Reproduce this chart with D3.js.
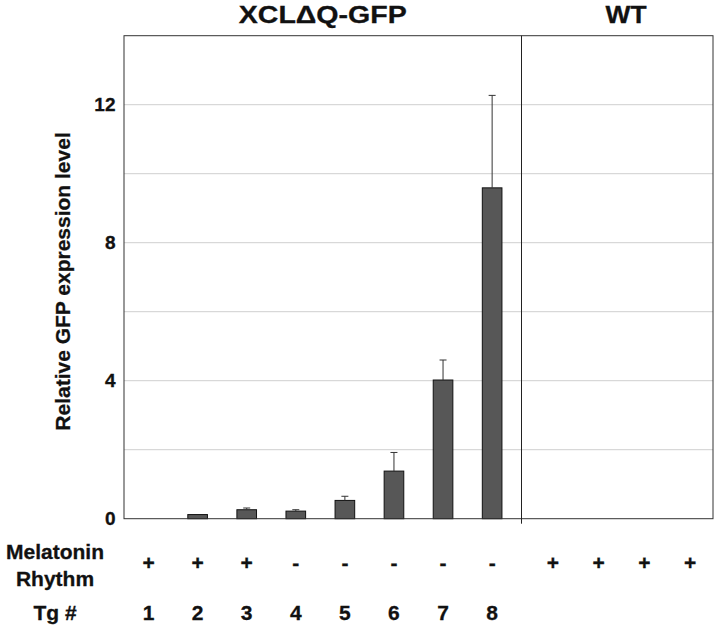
<!DOCTYPE html>
<html>
<head>
<meta charset="utf-8">
<script src="https://cdn.jsdelivr.net/npm/d3@7"></script>
<style>
  html, body { margin: 0; padding: 0; background: #fff; }
  svg { display: block; }
  text { font-family: "Liberation Sans", Arial, Helvetica, sans-serif; font-weight: bold; fill: #111; stroke: #111; stroke-width: 0.3; }
</style>
</head>
<body>
<svg id="chart" width="720" height="627"></svg>
<script>
// ---- data ----
const tgCategories = ["1", "2", "3", "4", "5", "6", "7", "8"];
const wtCategories = ["WT1", "WT2", "WT3", "WT4"];
const tgValues = [0, 0.12, 0.26, 0.22, 0.53, 1.38, 4.02, 9.59];
const tgErrorTop = [null, null, 0.31, 0.26, 0.65, 1.92, 4.6, 12.27];
const wtValues = [0, 0, 0, 0];
const tgMelatonin = ["+", "+", "+", "-", "-", "-", "-", "-"];
const wtMelatonin = ["+", "+", "+", "+"];
const yTickValues = [0, 4, 8, 12];
const yGridValues = [2, 4, 6, 8, 10, 12];
const groupTitles = ["XCL\u0394Q-GFP", "WT"];
const yTitle = "Relative GFP expression level";
const rowLabels = ["Melatonin", "Rhythm", "Tg #"];

// ---- layout ----
const svg = d3.select("#chart");
const pLeft = 124, pRight = 713, pTop = 35.7, pBottom = 518.7;
const allCats = tgCategories.concat(wtCategories);

const x = d3.scaleBand().domain(allCats).range([pLeft, pRight])
  .paddingInner(0.6).paddingOuter(0.3);
const xLabWT = d3.scaleBand().domain(wtCategories).range([530, 713]);
const y = d3.scaleLinear().domain([0, 14]).range([pBottom, pTop]);

const cx = c => x(c) + x.bandwidth() / 2;

// grid lines
svg.append("g").selectAll("line").data(yGridValues).join("line")
  .attr("x1", pLeft).attr("x2", pRight)
  .attr("y1", d => y(d)).attr("y2", d => y(d))
  .attr("stroke", "#cfcfcf").attr("stroke-width", 1);

// bars
const barData = tgCategories.map((c, i) => ({ c, v: tgValues[i], e: tgErrorTop[i] }))
  .concat(wtCategories.map((c, i) => ({ c, v: wtValues[i], e: null })));

svg.append("g").selectAll("rect").data(barData.filter(d => d.v > 0)).join("rect")
  .attr("x", d => x(d.c)).attr("width", x.bandwidth())
  .attr("y", d => y(d.v)).attr("height", d => y(0) - y(d.v))
  .attr("fill", "#575757").attr("stroke", "#111").attr("stroke-width", 1);

// error bars
const errs = barData.filter(d => d.e != null);
const eg = svg.append("g").attr("stroke", "#333").attr("stroke-width", 1);
eg.selectAll("line.v").data(errs).join("line").attr("class", "v")
  .attr("x1", d => cx(d.c)).attr("x2", d => cx(d.c))
  .attr("y1", d => y(d.v)).attr("y2", d => y(d.e));
eg.selectAll("line.cap").data(errs).join("line").attr("class", "cap")
  .attr("x1", d => cx(d.c) - 3.5).attr("x2", d => cx(d.c) + 3.5)
  .attr("y1", d => y(d.e)).attr("y2", d => y(d.e));

// frame
svg.append("rect").attr("x", pLeft).attr("y", pTop)
  .attr("width", pRight - pLeft).attr("height", pBottom - pTop)
  .attr("fill", "none").attr("stroke", "#333").attr("stroke-width", 1);

// divider
const divX = (cx(tgCategories[tgCategories.length - 1]) + xLabWT(wtCategories[0]) + xLabWT.bandwidth() / 2) / 2 - 1;
svg.append("line").attr("x1", divX).attr("x2", divX)
  .attr("y1", pTop).attr("y2", pBottom + 5)
  .attr("stroke", "#222").attr("stroke-width", 1);

// y tick labels
svg.append("g").selectAll("text").data(yTickValues).join("text")
  .attr("x", 115.5).attr("y", d => y(d)).attr("dy", "0.35em")
  .attr("text-anchor", "end").attr("font-size", 19)
  .text(d => d);

// y title
svg.append("text")
  .attr("transform", `translate(69.5,${(130 + 433) / 2}) rotate(-90)`)
  .attr("text-anchor", "middle").attr("font-size", 21)
  .text(yTitle);

// group titles
svg.append("text").attr("x", (pLeft + divX) / 2).attr("y", 22.5)
  .attr("text-anchor", "middle").attr("font-size", 24)
  .attr("textLength", 168).attr("lengthAdjust", "spacingAndGlyphs")
  .text(groupTitles[0]);
svg.append("text").attr("x", 626).attr("y", 22.5)
  .attr("text-anchor", "middle").attr("font-size", 24)
  .attr("textLength", 41).attr("lengthAdjust", "spacingAndGlyphs")
  .text(groupTitles[1]);

// row labels
const rowY = [559, 586, 620];
svg.append("g").selectAll("text").data(rowLabels).join("text")
  .attr("x", 55).attr("y", (d, i) => rowY[i])
  .attr("text-anchor", "middle").attr("font-size", 21).text(d => d);

// melatonin rhythm symbols
svg.append("g").selectAll("text").data(tgCategories).join("text")
  .attr("x", c => cx(c)).attr("y", 570)
  .attr("text-anchor", "middle").attr("font-size", 21)
  .text((c, i) => tgMelatonin[i]);
svg.append("g").selectAll("text").data(wtCategories).join("text")
  .attr("x", c => xLabWT(c) + xLabWT.bandwidth() / 2).attr("y", 570)
  .attr("text-anchor", "middle").attr("font-size", 21)
  .text((c, i) => wtMelatonin[i]);

// Tg numbers
svg.append("g").selectAll("text").data(tgCategories).join("text")
  .attr("x", c => cx(c)).attr("y", 620)
  .attr("text-anchor", "middle").attr("font-size", 21)
  .text(c => c);
</script>
</body>
</html>
